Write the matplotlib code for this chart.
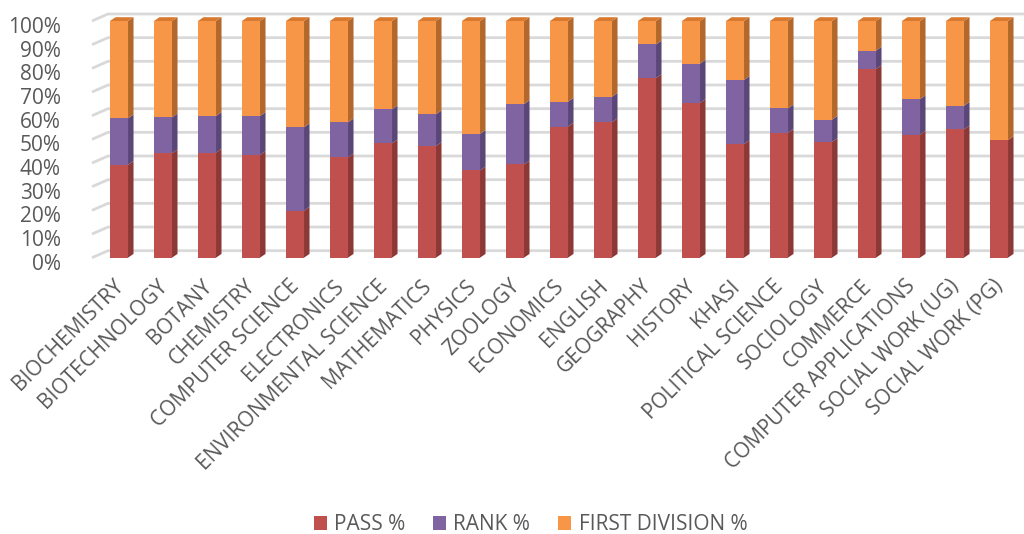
import matplotlib
matplotlib.use('Agg')
import matplotlib.pyplot as plt
import matplotlib.transforms as mtransforms
from matplotlib.patches import Polygon, Patch

plt.rcParams['font.family'] = ['Open Sans', 'DejaVu Sans']

# Departments along the x axis.
DEPARTMENTS = ['BIOCHEMISTRY', 'BIOTECHNOLOGY', 'BOTANY', 'CHEMISTRY',
               'COMPUTER SCIENCE', 'ELECTRONICS', 'ENVIRONMENTAL SCIENCE',
               'MATHEMATICS', 'PHYSICS', 'ZOOLOGY', 'ECONOMICS', 'ENGLISH',
               'GEOGRAPHY', 'HISTORY', 'KHASI', 'POLITICAL SCIENCE',
               'SOCIOLOGY', 'COMMERCE', 'COMPUTER APPLICATIONS',
               'SOCIAL WORK (UG)', 'SOCIAL WORK (PG)']

# Share of each stack (percent of the 100% bar).
PASS = [39.2, 44.1, 44.4, 43.4, 19.9, 42.4, 48.3, 47.2, 36.9, 39.4, 55.4,
        57.3, 75.9, 65.4, 48.0, 52.8, 48.9, 79.7, 52.0, 54.2, 49.7]
RANK = [19.7, 15.2, 15.5, 16.5, 35.2, 14.8, 14.4, 13.4, 15.4, 25.5, 10.5,
        10.7, 14.2, 16.6, 27.1, 10.3, 9.4, 7.8, 15.0, 10.0, 0.0]
FIRST_DIV = [100 - p - r for p, r in zip(PASS, RANK)]

SERIES = ['PASS %', 'RANK %', 'FIRST DIVISION %']
FRONT = ['#C0504D', '#8064A2', '#F79646']
SIDE = ['#8C3836', '#5B4678', '#B3672B']
TOP = '#D9782F'
GRID = '#D9D9D9'
TEXT = '#595959'

W = 0.41      # bar front width (data units)
DX = 0.125    # depth offset in x
DY = 0.016    # depth offset in y
GY = 0.0296   # back wall shift in y
GX = 0.364    # back wall shift in x

fig = plt.figure(figsize=(10.24, 5.34), dpi=100)
ax = fig.add_axes([97 / 1024, 1 - 257.7 / 534, 924 / 1024, 236.7 / 534])
ax.set_xlim(-0.5, 20.5)
ax.set_ylim(0, 1)
for s in ax.spines.values():
    s.set_visible(False)

# back wall gridlines
ticks = [i / 10 for i in range(11)]
x_left = -0.5 - 0.114
for v in ticks:
    ax.plot([x_left, x_left + GX, 20.58], [v, v + GY, v + GY],
            color=GRID, lw=2, clip_on=False, zorder=1,
            solid_capstyle='butt')

xs = list(range(len(DEPARTMENTS)))
data = [PASS, RANK, FIRST_DIV]
for i, x in enumerate(xs):
    bottom = 0.0
    for k, vals in enumerate(data):
        h = vals[i] / 100.0
        if h <= 0:
            continue
        top = bottom + h
        ax.add_patch(plt.Rectangle((x - W / 2, bottom), W, h,
                                   facecolor=FRONT[k], edgecolor='none',
                                   zorder=3, clip_on=False))
        side = Polygon([(x + W / 2, bottom), (x + W / 2 + DX, bottom + DY),
                        (x + W / 2 + DX, top + DY), (x + W / 2, top)],
                       closed=True, facecolor=SIDE[k], edgecolor='none',
                       zorder=3, clip_on=False)
        ax.add_patch(side)
        bottom = top
    lid = Polygon([(x - W / 2, bottom), (x - W / 2 + DX, bottom + DY),
                   (x + W / 2 + DX, bottom + DY), (x + W / 2, bottom)],
                  closed=True, facecolor=TOP, edgecolor='none',
                  zorder=3, clip_on=False)
    ax.add_patch(lid)

ax.set_yticks(ticks)
ax.set_yticklabels(['%d%%' % int(round(v * 100)) for v in ticks],
                   fontsize=15, color=TEXT)
ax.tick_params(axis='y', length=0, pad=26)
shift = mtransforms.ScaledTranslation(0, -4 / 100, fig.dpi_scale_trans)
for lab in ax.get_yticklabels():
    lab.set_transform(lab.get_transform() + shift)

ax.set_xticks(xs)
ax.set_xticklabels(DEPARTMENTS, rotation=45, ha='right',
                   rotation_mode='anchor', fontsize=15, color=TEXT)
ax.tick_params(axis='x', length=0, pad=13)
xshift = mtransforms.ScaledTranslation(-6 / 100, 0, fig.dpi_scale_trans)
for lab in ax.get_xticklabels():
    lab.set_transform(lab.get_transform() + xshift)

handles = [Patch(facecolor=c, edgecolor='none') for c in FRONT]
fig.legend(handles, SERIES, loc='center', bbox_to_anchor=(0.518, 1 - 525 / 534),
           ncol=3, frameon=False, fontsize=15, labelcolor=TEXT,
           handlelength=0.62, handleheight=0.62, handletextpad=0.35,
           columnspacing=1.35)

fig.savefig('out.png', dpi=100)
